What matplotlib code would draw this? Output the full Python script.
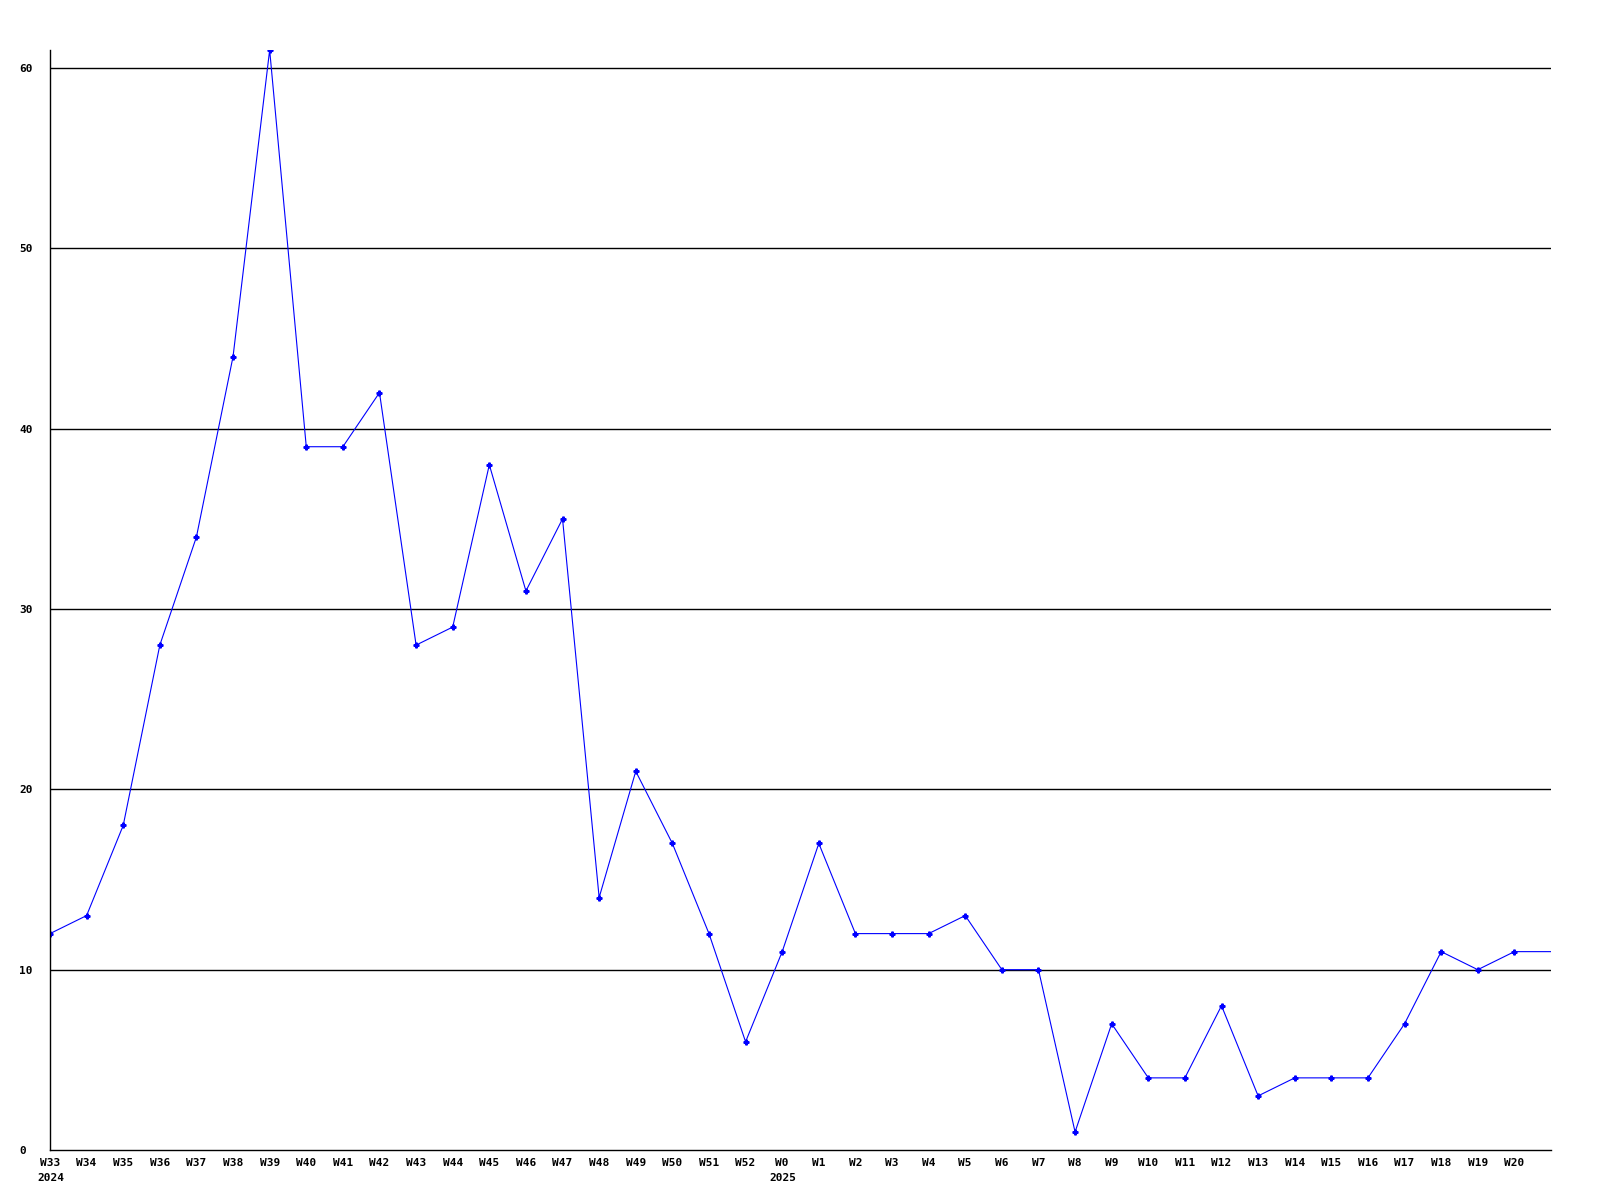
import matplotlib.pyplot as plt
import matplotlib.transforms as mtransforms

semanas = ["W33", "W34", "W35", "W36", "W37", "W38", "W39", "W40", "W41", "W42",
           "W43", "W44", "W45", "W46", "W47", "W48", "W49", "W50", "W51", "W52",
           "W0", "W1", "W2", "W3", "W4", "W5", "W6", "W7", "W8", "W9",
           "W10", "W11", "W12", "W13", "W14", "W15", "W16", "W17", "W18", "W19", "W20"]
valores = [12, 13, 18, 28, 34, 44, 61, 39, 39, 42,
           28, 29, 38, 31, 35, 14, 21, 17, 12, 6,
           11, 17, 12, 12, 12, 13, 10, 10, 1, 7,
           4, 4, 8, 3, 4, 4, 4, 7, 11, 10, 11]
# a linha continua ate a borda direita com o ultimo valor
valor_final = 11
anos = {"W33": "2024", "W0": "2025"}
yticks = [0, 10, 20, 30, 40, 50, 60]

fs = 8
fonte = {"family": "DejaVu Sans Mono", "weight": "bold", "size": fs}

fig = plt.figure(figsize=(16, 12), dpi=100)
ax = fig.add_axes([50 / 1600, 50 / 1200, 1501 / 1600, 1100 / 1200])

x = list(range(len(semanas)))
ax.plot(x + [len(semanas)], valores + [valor_final], color="#0000ff", lw=0.8,
        marker="P", markersize=3.5, markevery=list(range(len(semanas))))

ax.set_xlim(0, len(semanas))
ax.set_ylim(0, 61)

for v in yticks[1:]:
    ax.axhline(v, color="black", lw=1.0, zorder=0)

ax.set_xticks(x)
ax.set_xticklabels(semanas, fontdict=fonte)
ax.set_yticks(yticks)
ax.set_yticklabels([str(v) for v in yticks], fontdict=fonte)
for t in ax.get_yticklabels():
    t.set_horizontalalignment("left")
ax.tick_params(axis="both", length=0)
ax.tick_params(axis="x", pad=6)
ax.tick_params(axis="y", pad=22)

trans = mtransforms.blended_transform_factory(ax.transData, ax.transAxes)
for sem, ano in anos.items():
    i = semanas.index(sem)
    ax.annotate(ano, xy=(i, 0), xycoords=trans,
                xytext=(-9, -23.5), textcoords="offset points",
                ha="left", va="bottom", fontfamily=fonte["family"],
                fontweight="bold", fontsize=fs)

ax.spines["top"].set_visible(False)
ax.spines["right"].set_visible(False)
ax.spines["left"].set_linewidth(1.0)
ax.spines["bottom"].set_linewidth(1.0)

fig.savefig("out.png", dpi=100)
